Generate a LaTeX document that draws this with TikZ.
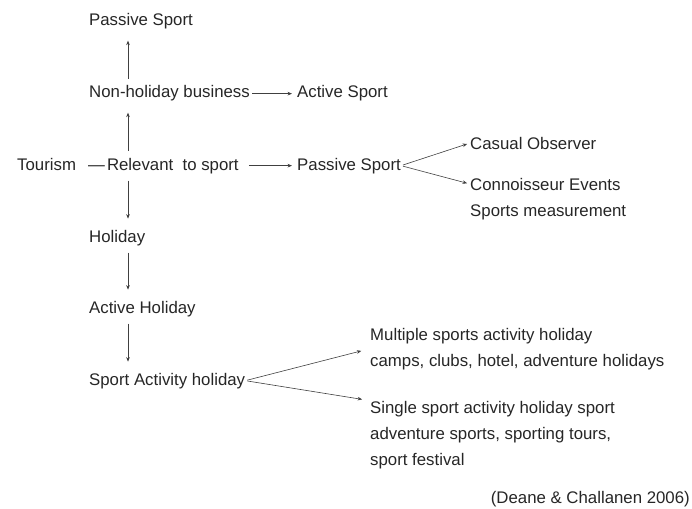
\documentclass[tikz,border=0pt]{standalone}
\usepackage{fontspec}
\setmainfont{Liberation Sans}
\usetikzlibrary{arrows.meta,calc}
\newcommand{\fs}{\fontsize{16.8}{19}\selectfont}
\tikzset{
  lbl/.style={anchor=base west, inner sep=0pt, font=\fs, text=black!85},
  arr/.style={draw=black!75, line width=0.6pt, -{Stealth[length=4.5pt,width=3.6pt]}},
  vert/.style={arr, shorten <=7pt, shorten >=11pt},
}
\begin{document}
\begin{tikzpicture}[x=1pt,y=-1pt]
\useasboundingbox (0,0) rectangle (692,508);
\coordinate (colx) at (128,0);
\node[lbl] (ps1) at (89,26) {Passive Sport};
\node[lbl] (nh) at (89,98) {Non-holiday business};
\node[lbl] (as1) at (297,98) {Active Sport};
\node[lbl] (tour) at (17,170) {Tourism};
\node[lbl] (rel) at (88,170) {\textemdash\kern2pt Relevant\ \ to sport};
\node[lbl] (ps2) at (297,170) {Passive Sport};
\node[lbl] (cas) at (470,149) {Casual Observer};
\node[lbl] (con) at (470,190) {Connoisseur Events};
\node[lbl] (spm) at (470,216) {Sports measurement};
\node[lbl] (hol) at (89,242) {Holiday};
\node[lbl] (ah) at (89,313) {Active Holiday};
\node[lbl] (sah) at (89,385) {Sport Activity holiday};
\node[lbl] (mul) at (370,340) {Multiple sports activity holiday};
\node[lbl] (camps) at (370,366) {camps, clubs, hotel, adventure holidays};
\node[lbl] (sin) at (370,413) {Single sport activity holiday sport};
\node[lbl] (adv) at (370,439) {adventure sports, sporting tours,};
\node[lbl] (fest) at (370,465) {sport festival};
\node[lbl, anchor=base east] (deane) at (690,503) {(Deane \& Challanen 2006)};
% vertical arrows
\draw[vert] (nh.north -| colx) -- (ps1.south -| colx);
\draw[vert] (rel.north -| colx) -- (nh.south -| colx);
\draw[vert] (rel.south -| colx) -- (hol.north -| colx);
\draw[vert] (hol.south -| colx) -- (ah.north -| colx);
\draw[vert] (ah.south -| colx) -- (sah.north -| colx);
% horizontal arrows
\draw[arr, shorten <=2pt, shorten >=5pt] (nh.east) -- (nh.east -| as1.west);
\draw[arr, shorten <=10pt, shorten >=5pt] (rel.east) -- (rel.east -| ps2.west);
% branches
\draw[arr, shorten <=2pt, shorten >=3pt] (ps2.east) -- (cas.west);
\draw[arr, shorten <=2pt, shorten >=3pt] (ps2.east) -- (con.west);
\draw[arr, shorten <=2pt, shorten >=9pt] (sah.east) -- ($(mul.west)!0.5!(camps.west)$);
\draw[arr, shorten <=2pt, shorten >=8pt] (sah.east) -- (sin.north west);
\end{tikzpicture}
\end{document}
